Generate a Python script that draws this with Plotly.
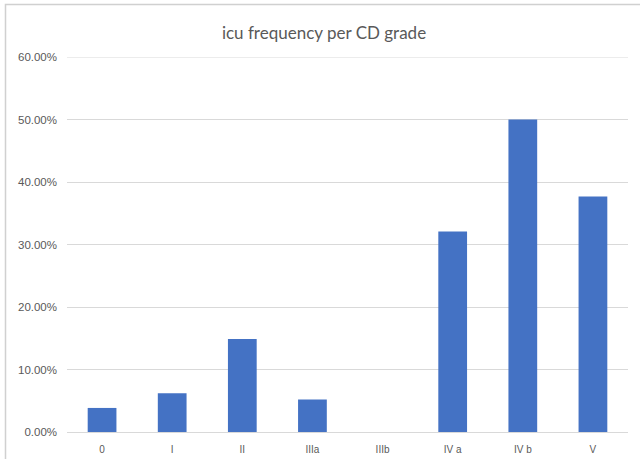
import plotly.graph_objects as go

# Clavien-Dindo grades and the share of patients admitted to ICU in each
grades = ["0", "I", "II", "IIIa", "IIIb", "IV a", "IV b", "V"]
icu_freq = [0.0385, 0.062, 0.149, 0.052, 0.0, 0.321, 0.50, 0.377]
y_ticks = [0, 0.1, 0.2, 0.3, 0.4, 0.5, 0.6]

W, H = 640, 459
L, R, T, B = 67, 12, 57, 27
plot_w = W - L - R
plot_h = H - T - B

fig = go.Figure(
    go.Bar(
        x=grades,
        y=icu_freq,
        marker=dict(color="#4472C4", line=dict(width=0)),
        hoverinfo="x+y",
    )
)

GRID = "#d9d9d9"
FRAME = "#d0d0d0"

# top gridline sits on the plot edge, so draw it explicitly
fig.add_shape(
    type="line", xref="paper", yref="y",
    x0=0, x1=1, y0=y_ticks[-1], y1=y_ticks[-1],
    line=dict(color=GRID, width=1),
)

# light frame around the chart area (left and top edges visible)
fx0 = (5.5 - L) / plot_w
fy1 = (H - B - 4.5) / plot_h
fig.add_shape(
    type="path", xref="paper", yref="paper",
    path=f"M {fx0},-0.1 L {fx0},{fy1} L 1.05,{fy1}",
    line=dict(color=FRAME, width=1.5),
    layer="above",
)

fig.update_layout(
    width=W, height=H,
    margin=dict(l=L, r=R, t=T, b=B, autoexpand=False),
    paper_bgcolor="white",
    plot_bgcolor="white",
    bargap=0.59,
    showlegend=False,
    title=dict(
        text="icu frequency per CD grade",
        x=(324 - L) / plot_w, xref="paper", xanchor="center",
        y=1 - 33 / H, yanchor="middle",
        font=dict(family="Lato, Open Sans, sans-serif", size=17, color="#595959"),
    ),
    xaxis=dict(
        showgrid=False, showline=True, linecolor=GRID, linewidth=1,
        automargin=False,
        ticks="", tickfont=dict(family="Liberation Sans, Arial, sans-serif", size=10, color="#595959"),
        ticklabelstandoff=8,
    ),
    yaxis=dict(
        range=[0, 0.6], tickvals=y_ticks, tickformat=".2%",
        automargin=False,
        showgrid=True, gridcolor=GRID, gridwidth=1,
        zeroline=False, showline=False, ticks="",
        tickfont=dict(family="Liberation Sans, Arial, sans-serif", size=11.5, color="#595959"),
        ticklabelstandoff=9,
    ),
)

fig.write_html("out.html")
